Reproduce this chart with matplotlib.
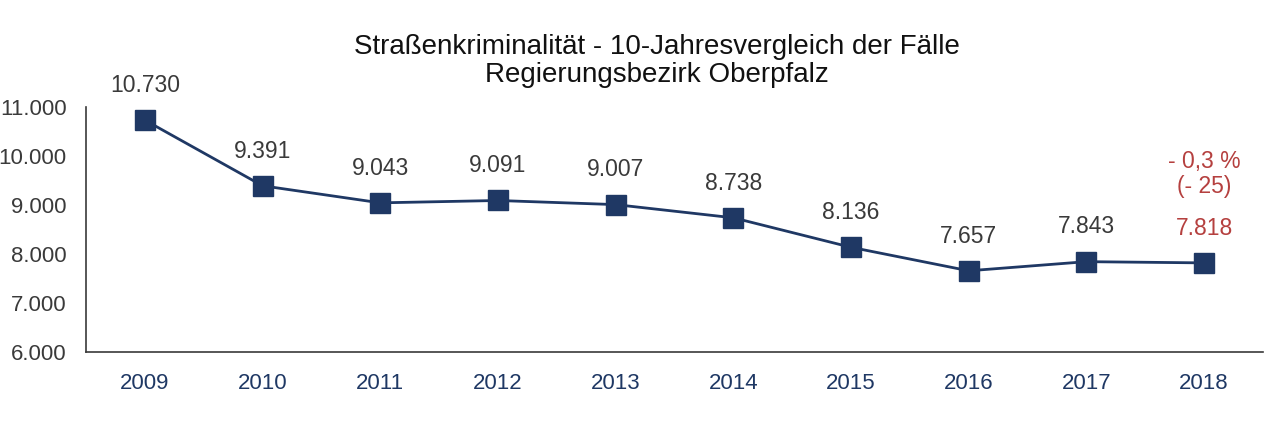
import matplotlib.pyplot as plt

years = ['2009', '2010', '2011', '2012', '2013', '2014', '2015', '2016', '2017', '2018']
cases = [10730, 9391, 9043, 9091, 9007, 8738, 8136, 7657, 7843, 7818]
labels = ['10.730', '9.391', '9.043', '9.091', '9.007', '8.738', '8.136', '7.657', '7.843', '7.818']
yticks = [6000, 7000, 8000, 9000, 10000, 11000]
ytick_labels = ['6.000', '7.000', '8.000', '9.000', '10.000', '11.000']
change_text = '- 0,3 %\n(- 25)'

plt.rcParams['font.family'] = ['Liberation Sans', 'DejaVu Sans']

navy = '#1f3864'
grey = '#3a3a3a'
red = '#b5403f'

fig = plt.figure(figsize=(12.8, 4.44), dpi=100)
ax = fig.add_axes([0.0672, 0.2072, 0.9195, 0.552])

x = list(range(len(years)))
ax.plot(x, cases, color=navy, lw=2.0, marker='s', ms=14, mfc=navy, mec=navy)

for i, (v, lab) in enumerate(zip(cases, labels)):
    col = red if i == len(cases) - 1 else grey
    ax.annotate(lab, (i, v), xytext=(0, 25), textcoords='offset points',
                ha='center', va='center', fontsize=16.5, color=col)

ax.annotate(change_text, (x[-1], cases[-1]), xytext=(0, 64), textcoords='offset points',
            ha='center', va='center', fontsize=16.5, color=red, linespacing=1.15)

ax.set_xlim(-0.5, len(years) - 0.5)
ax.set_ylim(6000, 11000)
ax.set_xticks(x)
ax.set_xticklabels(years)
ax.set_yticks(yticks)
ax.set_yticklabels(ytick_labels)
ax.tick_params(axis='both', length=0, labelsize=16, colors=grey)
ax.tick_params(axis='x', pad=15)
ax.tick_params(axis='y', pad=14)
for lab in ax.get_xticklabels():
    lab.set_color(navy)
for s in ['top', 'right']:
    ax.spines[s].set_visible(False)
for s in ['left', 'bottom']:
    ax.spines[s].set_color(grey)
    ax.spines[s].set_linewidth(1.2)

fig.text(0.513, 0.862, 'Straßenkriminalität - 10-Jahresvergleich der Fälle\nRegierungsbezirk Oberpfalz',
         ha='center', va='center', fontsize=20, color='#111111', linespacing=1.12)

fig.savefig('out.png', dpi=100)
